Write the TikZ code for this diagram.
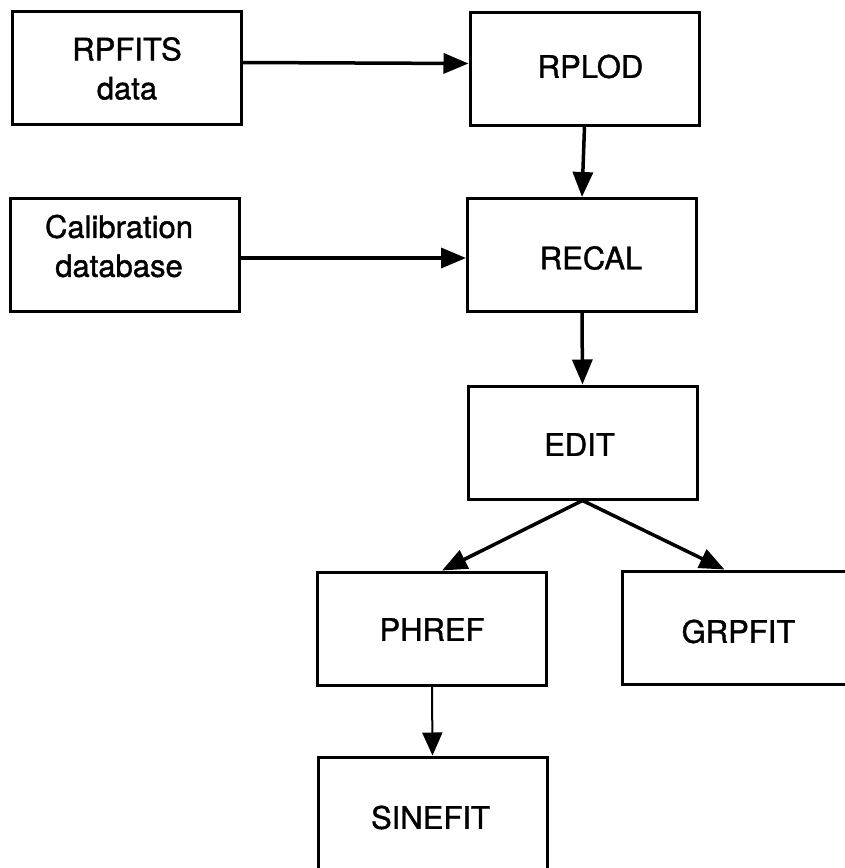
\documentclass[tikz,border=0pt]{standalone}
\usepackage{fontspec}
\setmainfont{TeX Gyre Heros}[FakeBold=1.2]
\usetikzlibrary{arrows.meta,calc}
\begin{document}
\begin{tikzpicture}[x=1pt,y=-1pt,
  box/.style={draw, line width=3pt, minimum width=229pt, minimum height=113pt, inner sep=0pt},
  txt/.style={inner sep=0pt, align=center, font=\fontsize{31}{39}\selectfont},
  flow/.style={line width=3.5pt, -{Triangle[length=25pt,width=20pt]}},
  thinflow/.style={line width=2pt, -{Triangle[length=23pt,width=20pt]}}]
\useasboundingbox (0,0) rectangle (845,868);
\clip (0,0) rectangle (845,868);

% processing boxes
\node[box] (rpfits) at (127,67.5)    {};
\node[box] (calib)  at (125,255)     {};
\node[box] (rplod)  at (584.5,68.5)  {};
\node[box] (recal)  at (582,255)     {};
\node[box] (edit)   at (582.5,442.5) {};
\node[box] (phref)  at (432,628.5)   {};
\node[box] (grpfit) at (736.5,627.5) {};
\node[box] (sinefit) at (432.5,813.5) {};

% box captions
\node[txt] (rpfits-t)  at ($(rpfits)+(0,1)$)   {RPFITS\\data};
\node[txt] (calib-t)   at ($(calib)+(-6,-9)$)  {Calibration\\database};
\node[txt] (rplod-t)   at ($(rplod)+(6,-2)$)   {RPLOD};
\node[txt] (recal-t)   at ($(recal)+(9,3)$)    {RECAL};
\node[txt] (edit-t)    at ($(edit)+(-3,2)$)    {EDIT};
\node[txt] (phref-t)   at ($(phref)+(0,1)$)    {PHREF};
\node[txt] (grpfit-t)  at ($(grpfit)+(2,4)$)   {GRPFIT};
\node[txt] (sinefit-t) at ($(sinefit)+(-2,4)$) {SINEFIT};

% data flow
\draw[flow] ($(rpfits.east)+(0,-5)$) -- ($(rplod.west)+(0,-5)$);
\draw[flow] ($(calib.east)+(0,3)$) -- ($(recal.west)+(0,3)$);
\draw[flow] (rplod.south) -- (recal.north);
\draw[flow] (recal.south) -- (edit.north);
\draw[flow] (edit.south) -- ($(phref.north)+(10,0)$);
\draw[flow] (edit.south) -- ($(grpfit.north)+(-12,0)$);
\draw[thinflow] (phref.south) -- (sinefit.north);
\end{tikzpicture}
\end{document}
